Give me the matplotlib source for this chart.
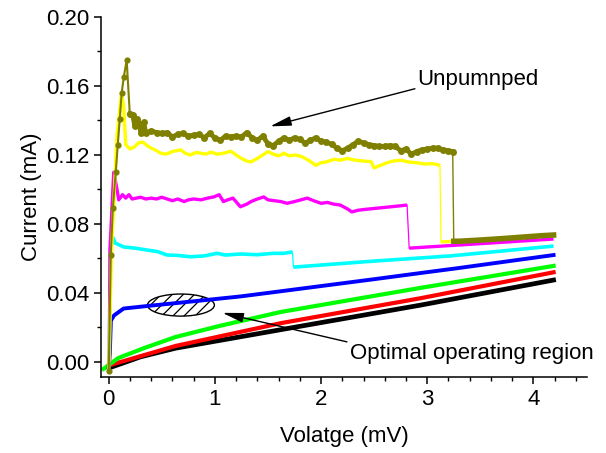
import numpy as np
import matplotlib
matplotlib.use("Agg")
import matplotlib.pyplot as plt
from matplotlib.patches import Ellipse
from matplotlib.ticker import MultipleLocator

plt.rcParams['font.family'] = ['Liberation Sans', 'DejaVu Sans']

# ---- data (V in mV, I in mA) ----
black_v = [0.0, 0.3, 0.63, 1.71, 2.94, 4.19]
black_i = [-0.0035, 0.003, 0.008, 0.0197, 0.033, 0.0475]

red_v = [0.0, 0.63, 1.62, 2.94, 4.19]
red_i = [-0.002, 0.0093, 0.0225, 0.037, 0.052]

green_v = [-0.05, 0.09, 0.33, 0.63, 1.05, 1.62, 2.94, 4.19]
green_i = [-0.004, 0.0023, 0.008, 0.0145, 0.021, 0.029, 0.043, 0.0557]

blue_v = [0.0, 0.01, 0.02, 0.05, 0.14, 0.37, 0.77, 1.24, 1.62, 2.5, 2.94, 3.3, 4.19]
blue_i = [-0.003, 0.005, 0.024, 0.027, 0.031, 0.0325, 0.035, 0.038, 0.041,
          0.048, 0.0516, 0.0545, 0.062]

cyan_v = [0.005, 0.015, 0.04, 0.06, 0.14, 0.25, 0.35, 0.46, 0.55, 0.65, 0.77,
          0.9, 1.02, 1.1, 1.24, 1.4, 1.55, 1.65, 1.73, 1.74, 2.5, 3.22, 4.19]
cyan_i = [0.0, 0.066, 0.072, 0.069, 0.0667, 0.066, 0.065, 0.064, 0.062, 0.0618,
          0.061, 0.0615, 0.063, 0.062, 0.0626, 0.0622, 0.063, 0.063, 0.0638,
          0.055, 0.0585, 0.0615, 0.0672]

magenta_v = [0.005, 0.012, 0.047, 0.075, 0.094, 0.13, 0.16, 0.19, 0.22, 0.26,
             0.30, 0.35, 0.40, 0.45, 0.50, 0.55, 0.60, 0.65, 0.71, 0.75, 0.80,
             0.87, 0.93, 0.99, 1.04, 1.08, 1.12, 1.17, 1.24, 1.30, 1.34, 1.40,
             1.46, 1.50, 1.56, 1.62, 1.68, 1.75, 1.81, 1.87, 1.93, 2.00, 2.06,
             2.12, 2.18, 2.25, 2.29, 2.35, 2.42, 2.50, 2.58, 2.66, 2.74, 2.81,
             2.83, 3.5, 4.19]
magenta_i = [0.0, 0.066, 0.11, 0.101, 0.094, 0.097, 0.095, 0.097, 0.0945, 0.095,
             0.0955, 0.0945, 0.095, 0.0945, 0.0955, 0.0945, 0.0935, 0.0945,
             0.093, 0.094, 0.0945, 0.094, 0.095, 0.0957, 0.097, 0.093, 0.094,
             0.095, 0.090, 0.0915, 0.093, 0.0945, 0.0957, 0.094, 0.0935, 0.093,
             0.092, 0.093, 0.094, 0.095, 0.0935, 0.092, 0.0925, 0.0915, 0.091,
             0.0887, 0.087, 0.088, 0.0885, 0.089, 0.0895, 0.090, 0.0905, 0.091,
             0.066, 0.0686, 0.0713]

yellow_v = [0.0, 0.028, 0.047, 0.075, 0.12, 0.14, 0.16, 0.2, 0.24, 0.28, 0.32,
            0.36, 0.40, 0.45, 0.49, 0.54, 0.6, 0.68, 0.72, 0.77, 0.82, 0.87,
            0.92, 0.96, 1.02, 1.08, 1.15, 1.20, 1.25, 1.30, 1.34, 1.40, 1.45,
            1.50, 1.55, 1.60, 1.65, 1.70, 1.76, 1.82, 1.88, 1.95, 2.00, 2.05,
            2.12, 2.18, 2.25, 2.32, 2.40, 2.47, 2.50, 2.56, 2.62, 2.68, 2.75,
            2.82, 2.90, 2.98, 3.05, 3.12, 3.13, 3.5, 4.19]
yellow_i = [-0.005, 0.068, 0.091, 0.129, 0.156, 0.149, 0.126, 0.1235, 0.1246,
            0.127, 0.1275, 0.1255, 0.124, 0.1225, 0.121, 0.1205, 0.122, 0.123,
            0.121, 0.120, 0.1215, 0.121, 0.1205, 0.1217, 0.1205, 0.121, 0.1222,
            0.120, 0.118, 0.1165, 0.116, 0.118, 0.120, 0.122, 0.1205, 0.1195,
            0.121, 0.1195, 0.120, 0.119, 0.117, 0.114, 0.1155, 0.116, 0.1175,
            0.117, 0.118, 0.117, 0.1165, 0.1162, 0.1125, 0.114, 0.1155, 0.1165,
            0.117, 0.116, 0.1155, 0.1148, 0.115, 0.114, 0.0696, 0.0708, 0.0732]

olive_v = [0.0, 0.019, 0.038, 0.066, 0.085, 0.104, 0.122, 0.141, 0.169, 0.198,
           0.226, 0.245, 0.264, 0.292, 0.301, 0.329, 0.348,
           0.40, 0.45, 0.50, 0.55, 0.60, 0.65, 0.70, 0.75, 0.80, 0.85, 0.90,
           0.95, 1.00, 1.05, 1.10, 1.15, 1.20, 1.25, 1.30, 1.35, 1.40, 1.45,
           1.50, 1.55, 1.60, 1.65, 1.70, 1.75, 1.80, 1.85, 1.90, 1.95, 2.00,
           2.05, 2.10, 2.15, 2.20, 2.25, 2.30, 2.35, 2.40, 2.45, 2.50, 2.55,
           2.60, 2.65, 2.70, 2.75, 2.80, 2.85, 2.90, 2.95, 3.00, 3.05, 3.10,
           3.15, 3.20, 3.24, 3.25, 3.3, 3.5, 3.7, 3.9, 4.1, 4.19]
olive_i = [-0.005, 0.062, 0.089, 0.110, 0.126, 0.141, 0.156, 0.165, 0.175,
           0.144, 0.143, 0.137, 0.141, 0.138, 0.133, 0.139, 0.133,
           0.134, 0.133, 0.1325, 0.133, 0.1305, 0.132, 0.1325, 0.131, 0.1315,
           0.132, 0.130, 0.1325, 0.130, 0.1285, 0.131, 0.1305, 0.131, 0.1305,
           0.133, 0.130, 0.1285, 0.131, 0.1265, 0.1255, 0.128, 0.130, 0.1285,
           0.130, 0.129, 0.127, 0.1285, 0.130, 0.128, 0.1275, 0.1262, 0.124,
           0.1225, 0.124, 0.126, 0.128, 0.127, 0.126, 0.1255, 0.125, 0.125,
           0.1255, 0.125, 0.1225, 0.1235, 0.1205, 0.122, 0.123, 0.1235, 0.124,
           0.124, 0.123, 0.1225, 0.122, 0.070, 0.0700, 0.0707, 0.0715, 0.0724,
           0.0733, 0.0736]

fig = plt.figure(figsize=(6.06, 4.53), dpi=100)
ax = fig.add_axes([101 / 606, 1 - 377 / 453, 486 / 606, 360 / 453])


def switch_index(i):
    # the switching step is the largest drop in current
    return int(np.argmin(np.diff(np.asarray(i))))


def draw_step(v, i, color, lw):
    # thick plateaus, thin vertical switching step
    v = np.asarray(v)
    i = np.asarray(i)
    k = switch_index(i)
    ax.plot(v[:k + 1], i[:k + 1], color=color, lw=lw, solid_capstyle='butt')
    ax.plot(v[k:k + 2], i[k:k + 2], color=color, lw=0.9)
    ax.plot(v[k + 1:], i[k + 1:], color=color, lw=lw, solid_capstyle='butt')


plt.rcParams['hatch.linewidth'] = 0.9
ax.add_patch(Ellipse((0.68, 0.033), 0.63, 0.0128, fill=False, hatch='///',
                     edgecolor='black', lw=1.0, zorder=1))

ax.plot(black_v, black_i, color='black', lw=3.4)
ax.plot(red_v, red_i, color='#ff0000', lw=3.0)
ax.plot(green_v, green_i, color='#00ff00', lw=3.0)
ax.plot(blue_v, blue_i, color='#0000ff', lw=2.8)
draw_step(cyan_v, cyan_i, '#00ffff', 2.6)
draw_step(magenta_v, magenta_i, '#ff00ff', 2.4)
draw_step(yellow_v, yellow_i, '#ffff00', 2.4)

# unpumped curve: thin rise with dots, thick dotted plateau, thin switch
ov = np.asarray(olive_v)
oi = np.asarray(olive_i)
k = switch_index(oi)
p = int(np.argmax(oi))
ax.plot(ov[:p + 2], oi[:p + 2], color='#808000', lw=1.5, marker='o',
        markersize=4.5, markeredgewidth=0)
ax.plot(ov[p + 1:k + 1], oi[p + 1:k + 1], color='#808000', lw=3.4, marker='o',
        markersize=5.0, markeredgewidth=0)
ax.plot(ov[k:k + 2], oi[k:k + 2], color='#808000', lw=1.0)
ax.plot(ov[k + 1:], oi[k + 1:], color='#808000', lw=4.0)

ax.annotate('Unpumnped', xy=(1.52, 0.1366), xytext=(2.91, 0.164),
            fontsize=16, va='center', ha='left',
            arrowprops=dict(arrowstyle='-|>,head_length=0.8,head_width=0.18',
                            color='black', lw=1.0, shrinkA=0, shrinkB=0,
                            relpos=(0.05, 0.15)))
ax.annotate('Optimal operating region', xy=(1.07, 0.0285), xytext=(2.27, 0.0052),
            fontsize=16, va='center', ha='left',
            arrowprops=dict(arrowstyle='-|>,head_length=0.8,head_width=0.18',
                            color='black', lw=1.0, shrinkA=0, shrinkB=0,
                            relpos=(0.0, 1.0)))

ax.set_xlim(-0.073, 4.505)
ax.set_ylim(-0.0087, 0.20)
ax.xaxis.set_major_locator(MultipleLocator(1))
ax.xaxis.set_minor_locator(MultipleLocator(0.2))
ax.yaxis.set_major_locator(MultipleLocator(0.04))
ax.yaxis.set_minor_locator(MultipleLocator(0.02))
ax.yaxis.set_major_formatter(matplotlib.ticker.FormatStrFormatter('%.2f'))

for side in ['top', 'right']:
    ax.spines[side].set_visible(False)
for side in ['left', 'bottom']:
    ax.spines[side].set_linewidth(1.1)

ax.tick_params(which='major', direction='out', length=5, width=1.1, labelsize=16)
ax.tick_params(which='minor', direction='out', length=3, width=1.0)

ax.set_xlabel('Volatge (mV)', fontsize=16, labelpad=12)
ax.set_ylabel('Current (mA)', fontsize=16, labelpad=3)

fig.savefig('out.png', dpi=100)
